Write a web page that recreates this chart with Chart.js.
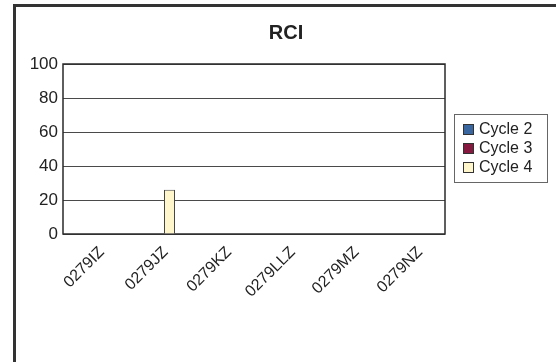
<!DOCTYPE html>
<html>
<head>
<meta charset="utf-8">
<script src="https://cdn.jsdelivr.net/npm/chart.js@4.4.1/dist/chart.umd.min.js"></script>
<style>
  html, body { margin: 0; padding: 0; background: #ffffff; overflow: hidden; }
  canvas { display: block; }
</style>
</head>
<body>
<canvas id="c" width="556" height="362"></canvas>
<script>
// ---- data ----
const chartTitle = "RCI";
const categories = ["0279IZ", "0279JZ", "0279KZ", "0279LLZ", "0279MZ", "0279NZ"];
const seriesNames = ["Cycle 2", "Cycle 3", "Cycle 4"];
const cycle2 = [0, 0, 0, 0, 0, 0];
const cycle3 = [0, 0, 0, 0, 0, 0];
const cycle4 = [0, 26, 0, 0, 0, 0];
const yTicks = [0, 20, 40, 60, 80, 100];

const colors = ["#3a66a0", "#85193f", "#fff6cc"];
const FONT = "'Liberation Sans', Arial, sans-serif";
const TEXT = "#222222";

const framePlugin = {
  id: "frame",
  beforeDraw(chart) {
    const ctx = chart.ctx;
    ctx.save();
    ctx.fillStyle = "#ffffff";
    ctx.fillRect(0, 0, chart.width, chart.height);
    ctx.strokeStyle = "#333333";
    ctx.lineWidth = 3;
    ctx.beginPath();
    ctx.moveTo(14.5, chart.height + 5);
    ctx.lineTo(14.5, 5.5);
    ctx.lineTo(chart.width + 5, 5.5);
    ctx.stroke();
    ctx.restore();
  },
  beforeDatasetsDraw(chart) {
    const a = chart.chartArea, ctx = chart.ctx;
    ctx.save();
    ctx.strokeStyle = "#2a2a2a";
    ctx.lineWidth = 1.5;
    ctx.strokeRect(a.left, a.top, a.right - a.left, a.bottom - a.top);
    ctx.restore();
  },
  afterDraw(chart) {
    const ctx = chart.ctx;
    ctx.save();
    ctx.fillStyle = TEXT;
    ctx.font = "bold 20px " + FONT;
    ctx.textAlign = "center";
    ctx.textBaseline = "alphabetic";
    ctx.fillText(chartTitle, 286, 39);
    const bx = 454.5, by = 114.5, bw = 93, bh = 68;
    ctx.strokeStyle = "#666666";
    ctx.lineWidth = 1;
    ctx.strokeRect(bx, by, bw, bh);
    ctx.font = "16px " + FONT;
    ctx.textAlign = "left";
    ctx.textBaseline = "middle";
    const rows = [129.5, 148.5, 167.5];
    chart.data.datasets.forEach((ds, i) => {
      ctx.fillStyle = ds.backgroundColor;
      ctx.fillRect(463.5, rows[i] - 5, 10, 10);
      ctx.strokeStyle = "#333333";
      ctx.lineWidth = 1;
      ctx.strokeRect(463.5, rows[i] - 5, 10, 10);
      ctx.fillStyle = TEXT;
      ctx.fillText(ds.label, 479, rows[i] + 0.5);
    });
    ctx.restore();
  }
};

new Chart(document.getElementById("c"), {
  type: "bar",
  data: {
    labels: categories,
    datasets: [
      { label: seriesNames[0], data: cycle2, backgroundColor: colors[0] },
      { label: seriesNames[1], data: cycle3, backgroundColor: colors[1] },
      { label: seriesNames[2], data: cycle4, backgroundColor: colors[2] }
    ].map(d => Object.assign(d, { borderColor: "#444444", borderWidth: 1, borderSkipped: "start",
                                   categoryPercentage: 0.518, barPercentage: 1.0 }))
  },
  options: {
    responsive: false,
    animation: false,
    layout: { padding: { left: 13, right: 111, top: 64, bottom: 0 } },
    plugins: { legend: { display: false }, title: { display: false }, tooltip: { enabled: false } },
    scales: {
      x: {
        grid: { display: false, drawTicks: false },
        border: { display: false },
        ticks: {
          color: TEXT, font: { family: FONT, size: 16 },
          minRotation: 45, maxRotation: 45, autoSkip: false, padding: 9, labelOffset: 7
        },
        afterFit(s) { s.height = 128; }
      },
      y: {
        min: 0, max: 100,
        afterBuildTicks(s) { s.ticks = yTicks.map(v => ({ value: v })); },
        grid: { color: "#4a4a4a", lineWidth: 1, drawTicks: false },
        border: { display: false },
        ticks: { color: TEXT, font: { family: FONT, size: 17 }, padding: 5 },
        afterFit(s) { s.width = 50; }
      }
    }
  },
  plugins: [framePlugin]
});
</script>
</body>
</html>
